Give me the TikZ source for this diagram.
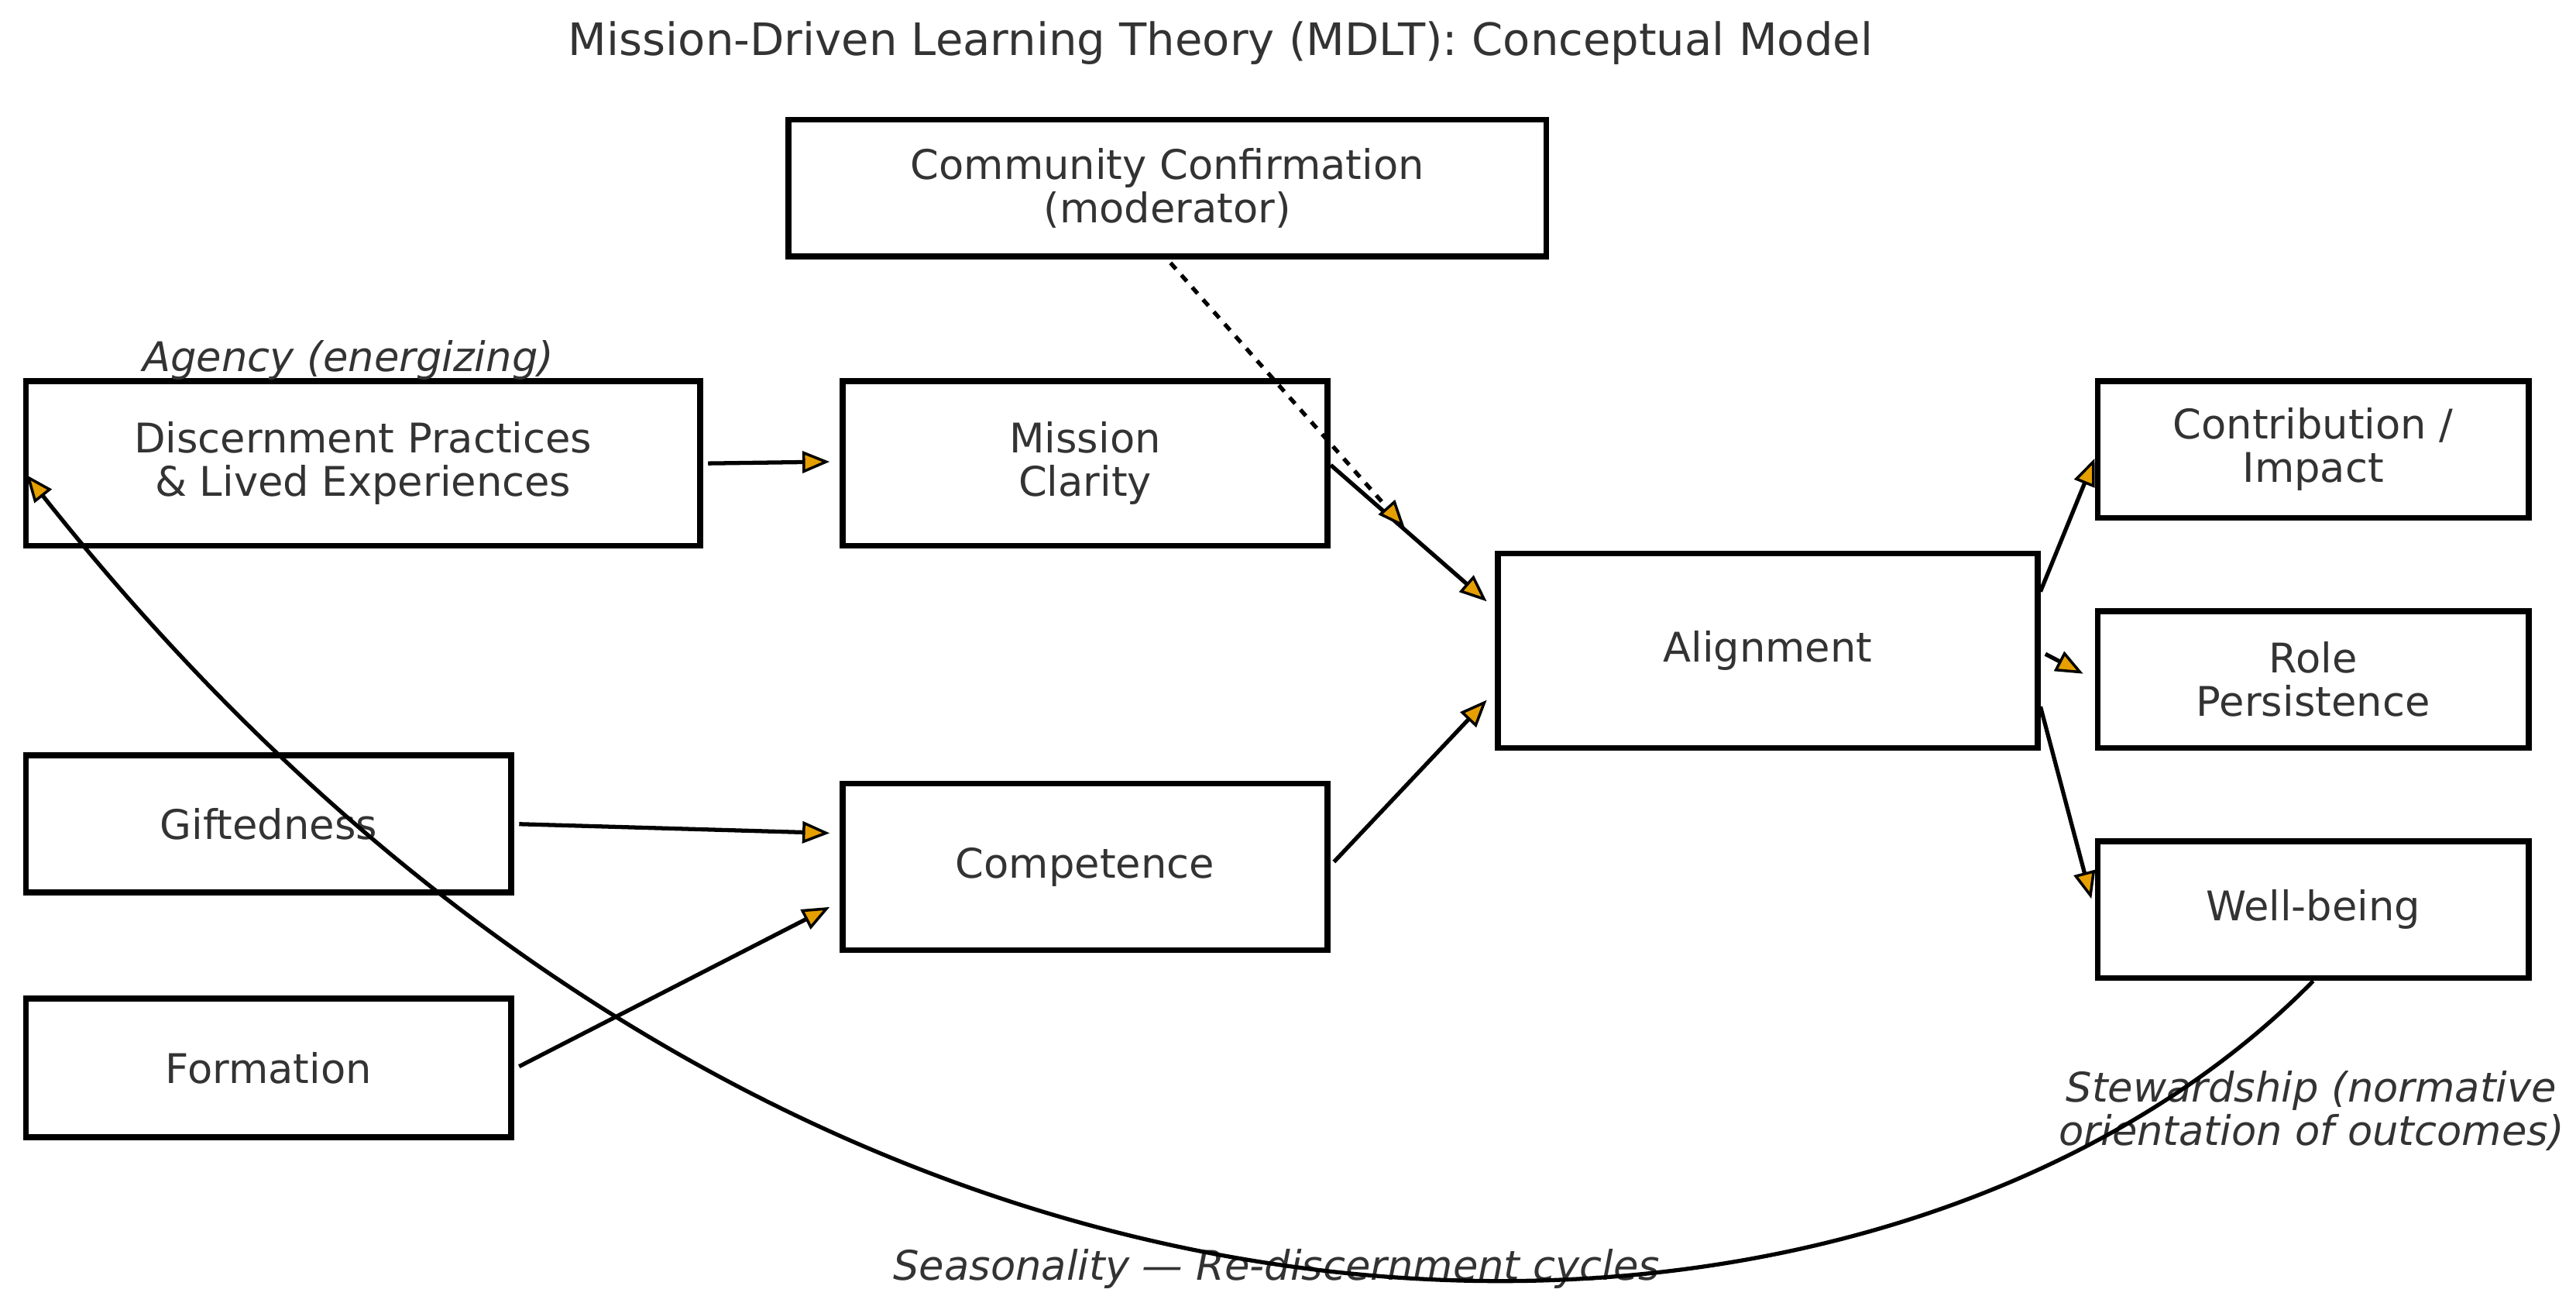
\documentclass[tikz,border=0pt]{standalone}
\usepackage{fontspec}
\setmainfont{DejaVu Sans}
\usetikzlibrary{arrows.meta}
\definecolor{tx}{HTML}{333333}
\definecolor{tip}{HTML}{E69F00}
\begin{document}
\begin{tikzpicture}[x=0.02121cm,y=-0.02121cm,
  box/.style={draw,line width=2.2pt,text=tx,align=center,font=\fontsize{15}{16}\selectfont,inner sep=0},
  lab/.style={text=tx,align=center,font=\fontsize{15}{16}\selectfont\itshape},
  arr/.style={line width=1.5pt,-{Triangle[length=10pt,width=8pt,fill=tip,line width=1pt]}}]
\useasboundingbox (0,0) rectangle (1568,792.5);
\newcommand\bx[6]{\node[box,minimum width=#4*0.02121cm-2.2pt,minimum height=#5*0.02121cm-2.2pt] (#1) at (#2,#3) {#6};}
\bx{cc}{710.5}{114.5}{465}{87}{Community Confirmation\\(moderator)}
\bx{dp}{221}{282}{414}{104}{Discernment Practices\\\& Lived Experiences}
\bx{mc}{660.5}{282}{299}{104}{Mission\\Clarity}
\bx{al}{1076}{396}{332}{122}{Alignment}
\bx{gi}{163.5}{501.5}{299}{87}{Giftedness}
\bx{co}{660.5}{527.5}{299}{105}{Competence}
\bx{fo}{163.5}{650}{299}{88}{Formation}
\bx{ci}{1408}{273.5}{266}{87}{Contribution /\\Impact}
\bx{ro}{1408}{413.5}{266}{87}{Role\\Persistence}
\bx{wb}{1408}{553.5}{266}{87}{Well-being}
\node[text=tx,font=\fontsize{16.4}{18}\selectfont] (t) at (743,26) {Mission-Driven Learning Theory (MDLT): Conceptual Model};
\node[lab] (ag) at (212,219) {Agency (energizing)};
\node[lab] (st) at (1407,676) {Stewardship (normative\\orientation of outcomes)};
\node[lab] (se) at (777,772) {Seasonality — Re-discernment cycles};
\coordinate (a1) at (505,281); \coordinate (a2) at (905,366); \coordinate (a3) at (855,321);
\coordinate (a4) at (505,507); \coordinate (a5) at (505,552); \coordinate (a6) at (905,426);
\coordinate (a7) at (1275,279); \coordinate (a8) at (1268,410); \coordinate (a9) at (1273,547);
\coordinate (a10) at (16,289);
\draw[arr] (dp.east)++(3,0) -- (a1);
\draw[arr] (mc.east)++(0,1) -- (a2);
\draw[arr,dashed] (cc.south)++(2,2) -- (a3);
\draw[arr] (gi.east)++(3,0) -- (a4);
\draw[arr] (fo.east)++(3,-1) -- (a5);
\draw[arr] (co.east)++(2,-3) -- (a6);
\draw[arr] (al.east)++(0,-36) -- (a7);
\draw[arr] (al.east)++(3,2) -- (a8);
\draw[arr] (al.east)++(0,34) -- (a9);
\draw[arr] (wb.south) .. controls (1150,860) and (500,900) .. (a10);
\end{tikzpicture}
\end{document}
